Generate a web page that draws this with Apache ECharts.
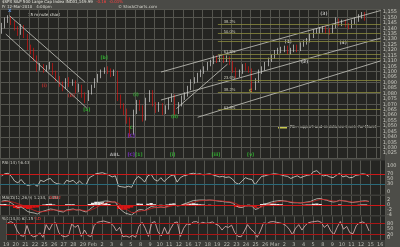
<!DOCTYPE html>
<html><head><meta charset="utf-8">
<script src="https://cdn.jsdelivr.net/npm/echarts@6/dist/echarts.min.js"></script>
<style>html,body{margin:0;padding:0;background:#3d3d39;}#c{width:400px;height:247px;}</style>
</head><body><div id="c"></div><script>
// ---- data ----
const dayLabels = ['19','20','21','22','25','26','27','28','29','Feb','2','3','4','5','8','9','10','11','12','16','17','18','19','22','23','24','25','26','Mar','2','3','4','5','8','9','10','11','12','15','16'];
// [open, close, low, high], 3 bars per trading day
const ohlc = [
[1138,1142,1135,1145],[1142,1148,1140,1150],[1148,1149,1145,1152],
[1149,1146,1143,1151],[1146,1140,1138,1147],[1140,1136,1133,1142],
[1136,1142,1134,1144],[1142,1134,1131,1143],[1134,1123,1120,1135],
[1123,1120,1116,1125],[1120,1113,1110,1122],[1113,1103,1100,1115],
[1103,1105,1101,1108],[1105,1102,1099,1107],[1102,1104,1100,1106],
[1104,1106,1102,1109],[1106,1100,1097,1108],[1100,1094,1091,1101],
[1094,1089,1086,1096],[1089,1085,1082,1091],[1085,1092,1084,1094],
[1092,1089,1086,1095],[1089,1091,1087,1093],[1091,1083,1080,1092],
[1083,1087,1081,1089],[1087,1079,1076,1088],[1079,1074,1071,1081],
[1074,1081,1073,1083],[1081,1087,1079,1088],[1087,1092,1085,1094],
[1092,1096,1090,1098],[1096,1100,1094,1102],[1100,1102,1098,1104],
[1102,1101,1098,1105],[1101,1098,1095,1103],[1098,1100,1096,1102],
[1100,1076,1073,1101],[1076,1069,1066,1079],[1069,1063,1060,1071],
[1063,1056,1052,1066],[1056,1043,1040,1058],[1043,1063,1042,1065],
[1063,1072,1061,1074],[1072,1067,1064,1074],[1067,1056,1054,1069],
[1056,1074,1055,1076],[1074,1081,1072,1083],[1081,1070,1068,1083],
[1070,1065,1062,1072],[1065,1070,1063,1072],[1070,1063,1060,1071],
[1063,1067,1061,1069],[1067,1074,1065,1076],[1074,1078,1072,1080],
[1078,1063,1060,1079],[1063,1070,1061,1072],[1070,1076,1068,1078],
[1076,1079,1074,1081],[1079,1085,1077,1087],[1085,1091,1083,1093],
[1091,1092,1089,1095],[1092,1097,1090,1099],[1097,1100,1095,1102],
[1100,1103,1098,1105],[1103,1107,1101,1109],[1107,1109,1105,1111],
[1109,1113,1107,1115],[1113,1111,1108,1115],[1111,1113,1109,1115],
[1113,1111,1108,1115],[1111,1113,1109,1115],[1113,1109,1106,1114],
[1109,1102,1099,1110],[1102,1097,1094,1104],[1097,1100,1095,1102],
[1100,1105,1098,1107],[1105,1103,1101,1108],[1103,1102,1099,1105],
[1102,1085,1081,1103],[1085,1092,1083,1094],[1092,1100,1090,1102],
[1100,1103,1098,1105],[1103,1107,1101,1109],[1107,1111,1105,1113],
[1111,1114,1109,1116],[1114,1118,1112,1120],[1118,1120,1116,1122],
[1120,1120,1117,1123],[1120,1122,1118,1124],[1122,1118,1116,1124],
[1118,1120,1116,1122],[1120,1123,1118,1125],[1123,1120,1118,1125],
[1120,1125,1119,1127],[1125,1127,1123,1129],[1127,1129,1125,1131],
[1129,1133,1127,1135],[1133,1137,1131,1139],[1137,1138,1135,1140],
[1138,1138,1135,1141],[1138,1140,1136,1142],[1140,1138,1135,1142],
[1138,1137,1134,1140],[1137,1142,1135,1144],[1142,1148,1140,1150],
[1148,1144,1142,1149],[1144,1146,1142,1148],[1146,1143,1141,1148],
[1143,1142,1139,1145],[1142,1146,1140,1148],[1146,1148,1144,1150],
[1148,1151,1146,1153],[1151,1153,1149,1155],[1153,1150,1147,1155]
];
const rsi = [62,70,72,60,42,35,48,33,25,28,30,22,45,40,48,52,38,32,30,28,45,40,45,32,42,30,28,55,62,70,72,74,70,65,58,62,22,20,18,22,18,45,60,52,38,62,68,48,42,55,40,52,62,66,38,55,62,65,70,72,68,70,66,68,70,66,62,58,60,56,58,50,35,30,42,55,50,48,28,45,60,62,66,68,70,68,66,62,60,52,58,62,55,60,64,66,78,82,70,62,64,58,55,64,72,58,62,55,56,64,66,70,68,60];
const macd = [1.5,1.8,1.6,0.8,-0.2,-1.0,-0.8,-1.6,-2.6,-3.0,-3.2,-3.6,-2.8,-2.4,-2.0,-1.6,-1.8,-2.2,-2.6,-2.8,-2.0,-1.8,-1.6,-2.0,-1.9,-2.4,-2.8,-1.8,-0.8,0.2,0.9,1.4,1.6,1.5,1.2,1.2,-1.0,-2.2,-3.2,-3.6,-4.0,-3.0,-2.0,-1.8,-2.2,-1.4,-0.6,-0.8,-1.0,-0.8,-1.0,-0.6,0.0,0.5,-0.4,-0.2,0.4,0.8,1.3,1.8,1.9,2.0,2.0,1.9,2.0,1.9,1.7,1.5,1.4,1.2,1.1,0.8,-0.2,-0.9,-1.0,-0.4,-0.3,-0.4,-1.8,-1.4,-0.4,0.3,0.8,1.2,1.5,1.7,1.8,1.6,1.4,1.0,0.9,0.9,0.8,1.0,1.2,1.4,2.0,2.5,2.6,2.2,1.9,1.5,1.2,1.4,1.9,1.7,1.5,1.2,1.0,1.2,1.4,1.6,1.7,1.4];
const signal = [1.2,1.4,1.5,1.3,1.0,0.5,0.1,-0.4,-1.0,-1.6,-2.1,-2.6,-2.7,-2.6,-2.4,-2.1,-2.0,-2.0,-2.2,-2.4,-2.3,-2.1,-1.9,-1.9,-1.9,-2.1,-2.4,-2.2,-1.7,-1.1,-0.4,0.3,0.8,1.1,1.2,1.2,0.6,-0.3,-1.3,-2.2,-3.0,-3.0,-2.6,-2.3,-2.2,-1.9,-1.4,-1.1,-1.0,-0.9,-0.9,-0.8,-0.5,-0.1,-0.2,-0.2,0.0,0.3,0.7,1.1,1.4,1.7,1.8,1.9,1.9,1.9,1.8,1.7,1.6,1.4,1.3,1.1,0.6,0.0,-0.4,-0.4,-0.4,-0.4,-0.9,-1.1,-0.8,-0.3,0.2,0.6,1.0,1.3,1.5,1.6,1.5,1.3,1.1,1.0,0.9,0.9,1.0,1.2,1.5,1.9,2.2,2.2,2.1,1.8,1.6,1.5,1.7,1.7,1.6,1.4,1.2,1.2,1.3,1.4,1.5,1.5];
const hist = [0.3,0.4,0.1,-0.5,-1.2,-1.5,-0.9,-1.2,-1.6,-1.4,-1.1,-1.0,-0.1,0.2,0.4,0.5,0.2,-0.2,-0.4,-0.4,0.3,0.3,0.3,-0.1,0.0,-0.3,-0.4,0.4,0.9,1.3,1.3,1.1,0.8,0.4,0.0,0.0,-1.6,-1.9,-1.9,-1.4,-1.0,0.0,0.6,0.5,0.0,0.5,0.8,0.3,0.0,0.1,-0.1,0.2,0.5,0.6,-0.2,0.0,0.4,0.5,0.6,0.7,0.5,0.3,0.2,0.0,0.1,0.0,-0.1,-0.2,-0.2,-0.2,-0.2,-0.3,-0.8,-0.9,-0.6,0.0,0.1,0.0,-0.9,-0.3,0.4,0.6,0.6,0.6,0.5,0.4,0.3,0.0,-0.1,-0.3,-0.2,-0.1,-0.1,0.1,0.2,0.2,0.5,0.6,0.4,0.0,-0.2,-0.3,-0.4,-0.1,0.2,0.0,-0.1,-0.2,-0.2,0.0,0.1,0.2,0.2,-0.1];
const stoch = [85,92,80,40,15,10,70,20,8,12,30,5,75,45,80,85,30,12,8,15,78,60,72,10,45,15,8,70,88,92,95,90,85,70,40,60,8,12,5,15,5,65,88,55,10,85,92,35,12,60,20,55,85,90,10,55,80,75,90,92,80,88,82,85,90,78,70,45,65,60,72,30,10,8,40,75,50,35,5,40,85,80,90,92,88,85,80,70,50,20,55,75,45,70,85,90,92,95,88,60,75,40,20,60,92,50,65,30,25,70,85,90,80,40];
// trend lines: [[day, price],[day, price]]
const trendLines = [
  [[1.0,1151.5],[8.8,1090.5]],
  [[0.6,1134.7],[9.0,1066.5]],
  [[16.7,1099.7],[39.49,1156.4]],
  [[16.7,1073.9],[39.49,1131.0]],
  [[20.5,1058.0],[39.49,1110.0]],
  [[18.3,1066.0],[23.6,1107.0]]
];
// Fibonacci levels (price) and their labels
const fibLevels = [1144,1135,1128,1116,1112,1092,1081,1065];
const fibLabels = ['38.2%','50.0%','','61.8%','','23.6%','38.2%','61.8%'];
// wave annotations: [day, price, text, color]
const notes = [
  [1.0,1156.5,'X','#6aa8ff'],
  [10.8,1113,'[b]','#33cc33'],
  [9.0,1065,'[a]','#33cc33'],
  [14.1,1079,'(i)','#33cc33'],
  [18.1,1058,'(ii)','#33cc33'],
  [13.6,1048,'C','#33cc33'],
  [13.6,1041,'[C]','#9933ff'],
  [11.9,1023,'ABL','#bbbbbb'],
  [13.6,1023,'[C]','#9933ff'],
  [14.4,1023,'[1]','#33cc33'],
  [17.9,1023,'[i]','#33cc33'],
  [22.4,1023,'[iii]','#33cc33'],
  [26.0,1023,'[v]','#33cc33'],
  [33.6,1153,'(3)','#dddddd'],
  [29.9,1128,'(1)','#dddddd'],
  [31.6,1109,'(2)','#dddddd'],
  [35.6,1127,'(4)','#dddddd'],
  [26.0,1082,'C','#dddd55'],
  [4.6,1087,'(i)','#dd3333'],
  [7.4,1078,'(ii)','#dd3333']
];

// ---- build ----
const xs = ohlc.map((_, i) => Math.floor(i / 3) + ((i % 3) + 0.5) / 3);
const candle = ohlc.map((r, i) => [xs[i], r[0], r[1], r[2], r[3]]);
const line = arr => arr.map((v, i) => [xs[i], v]);
const XMAX = 39.49;
const gridLine = {show:true, lineStyle:{color:'#55554f', width:1}};
function xAx(gi, labels){
  return {type:'value', gridIndex:gi, min:0, max:XMAX, interval:1,
    axisLine:{show:false}, axisTick:{show:false}, splitLine:gridLine,
    axisLabel: labels ? {show:true, color:'#b8b8b0', fontSize:5, margin:2,
      fontFamily:'DejaVu Sans', showMaxLabel:false, formatter: v => dayLabels[v] || ''} : {show:false}};
}
const lbl = {color:'#c8c8c0', fontSize:5, fontFamily:'DejaVu Sans', margin:2};
const fibLineData = fibLevels.map((p, i) => [{coord:[22.6, p], label:{show:!!fibLabels[i], formatter:fibLabels[i], position:'insideStartTop', color:'#d0d0c0', fontSize:4, distance:[6,0]}},{coord:[XMAX, p]}]);
const option = {
  animation:false,
  backgroundColor:'#3d3d39',
  grid:[
    {left:0, width:385, top:9, height:149.5, show:true, backgroundColor:'#252522', borderWidth:0},
    {left:0, width:385, top:160.5, height:34.1, show:true, backgroundColor:'#252522', borderWidth:0},
    {left:0, width:385, top:196, height:19, show:true, backgroundColor:'#252522', borderWidth:0},
    {left:0, width:385, top:216.5, height:24.7, show:true, backgroundColor:'#252522', borderWidth:0}
  ],
  xAxis:[xAx(0,false), xAx(1,false), xAx(2,false), xAx(3,true)],
  yAxis:[
    {type:'value', gridIndex:0, position:'right', min:1020, max:1157.8, interval:5,
      axisLine:{show:false}, axisTick:{show:false}, splitLine:{show:false},
      axisLabel:Object.assign({showMaxLabel:false, showMinLabel:false, formatter: v => (v/1000).toFixed(3).replace('.', ',')}, lbl)},
    {type:'value', gridIndex:0, position:'right', min:1020, max:1157.8, interval:10, show:true,
      axisLine:{show:false}, axisTick:{show:false}, axisLabel:{show:false}, splitLine:gridLine},
    {type:'value', gridIndex:1, position:'right', min:-10, max:121, interval:10,
      axisLine:{show:false}, axisTick:{show:false}, splitLine:{show:false},
      axisLabel:Object.assign({showMaxLabel:false, formatter: v => [0,30,50,70,100].includes(v) ? String(v) : ''}, lbl)},
    {type:'value', gridIndex:2, position:'right', min:-4, max:3.6, interval:2,
      axisLine:{show:false}, axisTick:{show:false}, splitLine:{show:false},
      axisLabel:Object.assign({showMaxLabel:false}, lbl)},
    {type:'value', gridIndex:3, position:'right', min:-10, max:120, interval:10,
      axisLine:{show:false}, axisTick:{show:false}, splitLine:{show:false},
      axisLabel:Object.assign({showMaxLabel:false, formatter: v => [0,20,50,80].includes(v) ? String(v) : ''}, lbl)}
  ],
  graphic:[
    {type:'rect', shape:{x:385, y:0, width:15, height:247}, style:{fill:'#4d4d48'}, z:-1},
    {type:'rect', shape:{x:0, y:0, width:400, height:9}, style:{fill:'#4a4a46'}, z:-1},
    {type:'text', left:2, top:0, style:{text:'$SPX S&P 500 Large Cap Index INDX', fill:'#e8e8e0', font:'4px DejaVu Sans'}},
    {type:'text', left:75, top:0, style:{text:'1,149.99', fill:'#e8e8e0', font:'4px DejaVu Sans'}},
    {type:'text', left:96, top:0, style:{text:'-0.16  -0.01%', fill:'#ff4040', font:'4px DejaVu Sans'}},
    {type:'text', left:2, top:5, style:{text:'Fr 12-Mar-2010   4:00pm', fill:'#d8d8d0', font:'4px DejaVu Sans'}},
    {type:'text', left:118, top:5, style:{text:'© StockCharts.com', fill:'#d8d8d0', font:'4px DejaVu Sans'}},
    {type:'text', left:28, top:13, style:{text:'15 minute chart', fill:'#e8e8e0', font:'4px DejaVu Sans'}},
    {type:'text', left:2, top:161, style:{text:'RSI(14) 56.43', fill:'#d0d0c8', font:'4px DejaVu Sans'}},
    {type:'text', left:2, top:196, style:{text:'MACD(12,26,9) 1.234, 1.456', fill:'#d0d0c8', font:'4px DejaVu Sans'}},
    {type:'text', left:48, top:196, style:{text:'-0.222', fill:'#ff4040', font:'4px DejaVu Sans'}},
    {type:'text', left:2, top:217, style:{text:'%K(14,3) 62.15', fill:'#d0d0c8', font:'4px DejaVu Sans'}},
    {type:'text', left:34, top:217, style:{text:'%D', fill:'#ff4040', font:'4px DejaVu Sans'}},
    {type:'rect', shape:{x:278, y:126.5, width:9, height:2}, style:{fill:'#c8c850'}},
    {type:'text', left:290, top:125, style:{text:'Fib. support and resistance levels for March', fill:'#d8d8d0', font:'4px DejaVu Sans'}}
  ],
  series:[
    {type:'candlestick', xAxisIndex:0, yAxisIndex:0, data:candle, barWidth:1.3,
      encode:{x:0, y:[1,2,3,4]},
      itemStyle:{color:'#f0f0f0', color0:'#ee1111', borderColor:'#f0f0f0', borderColor0:'#ee1111', borderWidth:0.6},
      markLine:{silent:true, symbol:'none', animation:false, label:{show:false},
        lineStyle:{color:'#c8c8c0', width:0.8, type:'solid'},
        data: trendLines.map(t => [{coord:t[0]},{coord:t[1]}])}
    },
    {type:'line', xAxisIndex:0, yAxisIndex:0, data:[], markLine:{silent:true, symbol:'none', animation:false,
      lineStyle:{color:'#8a8a3c', width:0.8, type:'solid'}, data:fibLineData}},
    {type:'scatter', xAxisIndex:0, yAxisIndex:0, symbolSize:0, silent:true,
      data: notes.map(n => ({value:[n[0], n[1]], label:{show:true, position:'inside', formatter:n[2], color:n[3], fontSize:4.5, fontFamily:'DejaVu Sans', fontWeight:'bold'}}))},
    {type:'line', xAxisIndex:1, yAxisIndex:2, data:line(rsi), symbol:'none', lineStyle:{color:'#d8d8d0', width:0.8},
      markLine:{silent:true, symbol:'none', label:{show:false}, data:[{yAxis:70, lineStyle:{color:'#cc1818', width:1, type:'solid'}},{yAxis:30, lineStyle:{color:'#2a6a7a', width:1, type:'solid'}}]}},
    {type:'bar', xAxisIndex:2, yAxisIndex:3, data:hist.map((v,i)=>({value:[xs[i], v], itemStyle:{color: v < 0 ? '#dd1111' : '#e8e8e8'}})), barWidth:3.3},
    {type:'line', xAxisIndex:2, yAxisIndex:3, data:line(macd), symbol:'none', lineStyle:{color:'#c8c8c0', width:0.8},
      markLine:{silent:true, symbol:'none', label:{show:false}, data:[{yAxis:0, lineStyle:{color:'#cc1818', width:1, type:'solid'}}]}},
    {type:'line', xAxisIndex:2, yAxisIndex:3, data:line(signal), symbol:'none', lineStyle:{color:'#cc2020', width:0.8}},
    {type:'line', xAxisIndex:3, yAxisIndex:4, data:line(stoch), symbol:'none', lineStyle:{color:'#e0b8b8', width:0.8},
      markLine:{silent:true, symbol:'none', label:{show:false}, data:[{yAxis:80, lineStyle:{color:'#aa1515', width:1, type:'solid'}},{yAxis:20, lineStyle:{color:'#aa1515', width:1, type:'solid'}}]}}
  ]
};
const chart = echarts.init(document.getElementById('c'), null, {renderer:'canvas'});
chart.setOption(option);
</script></body></html>
